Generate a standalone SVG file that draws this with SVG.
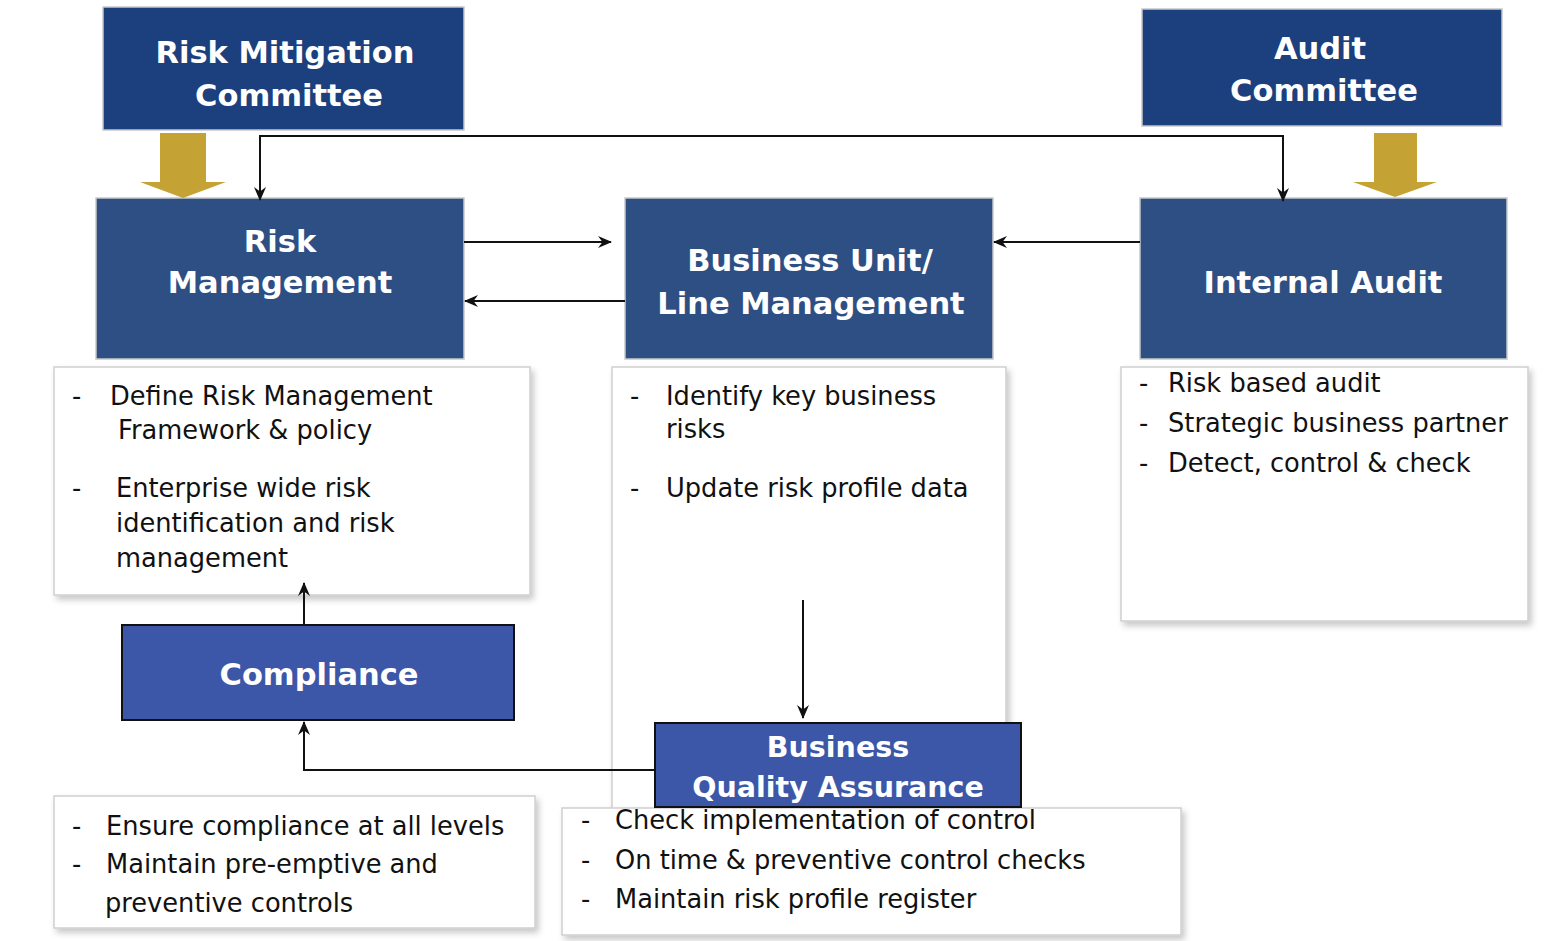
<svg xmlns="http://www.w3.org/2000/svg" width="1544" height="941" viewBox="0 0 1544 941">
<style>
  .top{fill:#1c3f7d;stroke:#c8c8c8;stroke-width:1.5}
  .mid{fill:#2e4f84;stroke:#c8c8c8;stroke-width:1.5}
  .low{fill:#3c57a8;stroke:#111;stroke-width:2}
  .note{fill:#fff;stroke:#cfcfcf;stroke-width:1.5;filter:url(#sh)}
  .t{font-family:"DejaVu Sans","Liberation Sans",sans-serif;font-weight:bold;font-size:30.5px;fill:#fff;text-anchor:middle}
  .b{font-family:"DejaVu Sans","Liberation Sans",sans-serif;font-size:25.7px;fill:#111}
  .c{fill:none;stroke:#111;stroke-width:2}
  .gold{fill:#c4a233}
</style>
<defs>
  <filter id="sh" x="-5%" y="-5%" width="112%" height="115%">
    <feDropShadow dx="3" dy="4" stdDeviation="3" flood-color="#000" flood-opacity="0.22"/>
  </filter>
  <marker id="ah" viewBox="0 0 14 14" refX="13" refY="7" markerWidth="14" markerHeight="14" markerUnits="userSpaceOnUse" orient="auto">
    <path d="M0,1 L14,7 L0,13 L4.5,7 z" fill="#111"/>
  </marker>
</defs>
<rect width="1544" height="941" fill="#fff"/>

<g id="bu-notes">
  <rect class="note" x="612" y="367" width="394" height="450"/>
  <text class="b" x="630" y="405">-</text>
  <text class="b" x="666" y="405">Identify key business</text>
  <text class="b" x="666" y="438">risks</text>
  <text class="b" x="630" y="497">-</text>
  <text class="b" x="666" y="497">Update risk profile data</text>
</g>

<g id="rm-notes">
  <rect class="note" x="54" y="367" width="476" height="228"/>
  <text class="b" x="72" y="405">-</text>
  <text class="b" x="110" y="405">Define Risk Management</text>
  <text class="b" x="118" y="439">Framework &amp; policy</text>
  <text class="b" x="72" y="497">-</text>
  <text class="b" x="116" y="497">Enterprise wide risk</text>
  <text class="b" x="116" y="532">identification and risk</text>
  <text class="b" x="116" y="567">management</text>
</g>

<g id="ia-notes">
  <rect class="note" x="1121" y="367" width="407" height="254"/>
  <text class="b" x="1139" y="392">-</text>
  <text class="b" x="1168" y="392">Risk based audit</text>
  <text class="b" x="1139" y="432">-</text>
  <text class="b" x="1168" y="432">Strategic business partner</text>
  <text class="b" x="1139" y="472">-</text>
  <text class="b" x="1168" y="472">Detect, control &amp; check</text>
</g>

<g id="comp-notes">
  <rect class="note" x="54" y="796" width="481" height="132"/>
  <text class="b" x="72" y="835">-</text>
  <text class="b" x="106" y="835">Ensure compliance at all levels</text>
  <text class="b" x="72" y="873">-</text>
  <text class="b" x="106" y="873">Maintain pre-emptive and</text>
  <text class="b" x="105" y="912">preventive controls</text>
</g>

<g id="bqa-notes">
  <rect class="note" x="562" y="808" width="619" height="127"/>
  <text class="b" x="581" y="829">-</text>
  <text class="b" x="615" y="829">Check implementation of control</text>
  <text class="b" x="581" y="869">-</text>
  <text class="b" x="615" y="869">On time &amp; preventive control checks</text>
  <text class="b" x="581" y="908">-</text>
  <text class="b" x="615" y="908">Maintain risk profile register</text>
</g>

<g id="risk-mitigation-committee">
  <rect class="top" x="103" y="7" width="361" height="123"/>
  <text class="t" x="285" y="63">Risk Mitigation</text>
  <text class="t" x="289" y="106">Committee</text>
</g>

<g id="audit-committee">
  <rect class="top" x="1142" y="9" width="360" height="117"/>
  <text class="t" x="1320" y="59">Audit</text>
  <text class="t" x="1324" y="101">Committee</text>
</g>

<g id="risk-management">
  <rect class="mid" x="96" y="198" width="368" height="161"/>
  <text class="t" x="280" y="252">Risk</text>
  <text class="t" x="280" y="293">Management</text>
</g>

<g id="business-unit">
  <rect class="mid" x="625" y="198" width="368" height="161"/>
  <text class="t" x="810" y="271">Business Unit/</text>
  <text class="t" x="811" y="314">Line Management</text>
</g>

<g id="internal-audit">
  <rect class="mid" x="1140" y="198" width="367" height="161"/>
  <text class="t" x="1323" y="293">Internal Audit</text>
</g>

<g id="compliance">
  <rect class="low" x="122" y="625" width="392" height="95"/>
  <text class="t" x="319" y="685">Compliance</text>
</g>

<g id="business-quality-assurance">
  <rect class="low" x="655" y="723" width="366" height="84"/>
  <text class="t" x="838" y="757" style="font-size:28.5px">Business</text>
  <text class="t" x="838" y="797" style="font-size:28.5px">Quality Assurance</text>
</g>

<g id="connectors">
  <polygon class="gold" points="160,133 206,133 206,182 226,182 183,198 140,182 160,182"/>
  <polygon class="gold" points="1374,133 1417,133 1417,182 1437,182 1395,197 1353,182 1374,182"/>
  <path class="c" d="M1283,198 L1283,136 L260,136 L260,200" marker-end="url(#ah)"/>
  <path class="c" d="M1283,137 L1283,201" marker-end="url(#ah)"/>
  <path class="c" d="M464,242 L611,242" marker-end="url(#ah)"/>
  <path class="c" d="M625,301 L465,301" marker-end="url(#ah)"/>
  <path class="c" d="M1140,242 L994,242" marker-end="url(#ah)"/>
  <path class="c" d="M304,625 L304,583" marker-end="url(#ah)"/>
  <path class="c" d="M803,600 L803,718" marker-end="url(#ah)"/>
  <path class="c" d="M655,770 L304,770 L304,722" marker-end="url(#ah)"/>
</g>
</svg>
